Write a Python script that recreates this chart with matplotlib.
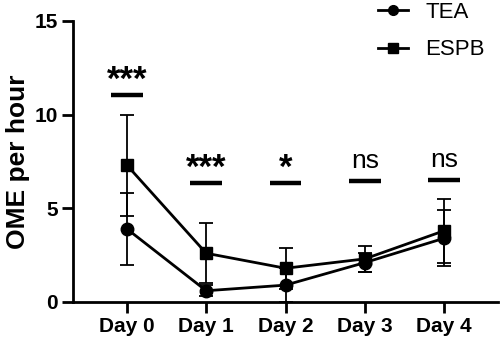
import matplotlib
matplotlib.use("Agg")
import matplotlib.pyplot as plt
from matplotlib.lines import Line2D
import numpy as np

plt.rcParams['font.family'] = ['Liberation Sans', 'DejaVu Sans']

days = ["Day 0", "Day 1", "Day 2", "Day 3", "Day 4"]
tea_mean = [3.9, 0.6, 0.9, 2.1, 3.4]
tea_err = [1.9, 0.3, 0.9, 0.5, 1.5]
espb_mean = [7.3, 2.6, 1.8, 2.3, 3.8]
espb_err = [2.7, 1.6, 1.1, 0.7, 1.7]
sig_labels = ["***", "***", "*", "ns", "ns"]
sig_bar_y = [11.05, 6.35, 6.35, 6.46, 6.5]
yticks = [0, 5, 10, 15]

fig = plt.figure(figsize=(5, 3.42), dpi=100)
ax = fig.add_axes([0.146, 0.117, 0.85, 0.822])
x = np.arange(len(days))

ax.errorbar(x, tea_mean, yerr=tea_err, color='black', marker='o', markersize=9,
            lw=2.0, capsize=5, elinewidth=1.3, capthick=1.3, zorder=3)
ax.errorbar(x, espb_mean, yerr=espb_err, color='black', marker='s', markersize=8.5,
            lw=2.0, capsize=5, elinewidth=1.3, capthick=1.3, zorder=3)

for xi, lab, by in zip(x, sig_labels, sig_bar_y):
    ax.plot([xi - 0.2, xi + 0.2], [by, by], color='black', lw=3.2, solid_capstyle='butt')
    if lab == 'ns':
        ax.annotate(lab, (xi, by), xytext=(0, 9.5), textcoords='offset points',
                    ha='center', va='baseline', fontsize=19)
    else:
        ax.annotate(lab, (xi, by), xytext=(0, 3.5), textcoords='offset points',
                    ha='center', va='baseline', fontsize=25, fontweight='bold')

ax.set_xlim(-0.68, 4.68)
ax.set_ylim(0, 15)
ax.set_yticks(yticks)
ax.set_xticks(x)
ax.set_xticklabels(days)
for lbl in ax.get_xticklabels() + ax.get_yticklabels():
    lbl.set_fontweight('bold')
    lbl.set_fontsize(15)
ax.set_ylabel("OME per hour", fontsize=19, fontweight='bold', labelpad=3)
for s in ['top', 'right']:
    ax.spines[s].set_visible(False)
for s in ['left', 'bottom']:
    ax.spines[s].set_linewidth(2.0)
ax.tick_params(width=2.0, length=8, pad=3)

handles = [Line2D([], [], color='black', marker='o', markersize=7, lw=2.0),
           Line2D([], [], color='black', marker='s', markersize=7, lw=2.0)]
leg = fig.legend(handles, ['TEA', 'ESPB'], loc='upper left', bbox_to_anchor=(0.756, 0.995),
                 frameon=False, fontsize=16, handlelength=1.36, handletextpad=0.77,
                 labelspacing=0.75, borderpad=0, borderaxespad=0)

fig.savefig("out.png", dpi=100)
